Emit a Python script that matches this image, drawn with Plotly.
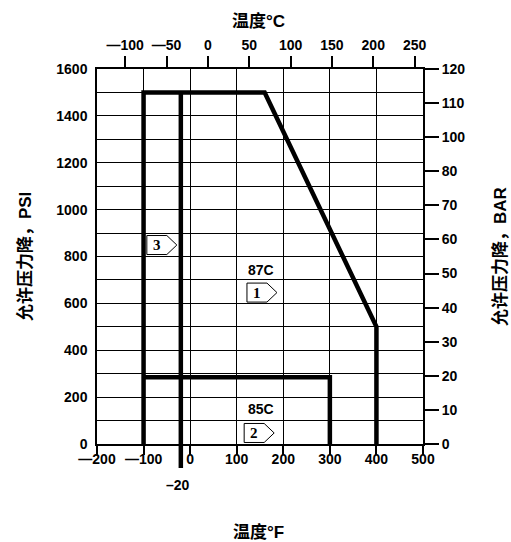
import plotly.graph_objects as go

# ---- data ----
curve1_f = [-100, -100, 160, 400, 400]
curve1_psi = [0, 1500, 1500, 500, 0]
curve2_f = [-100, 300, 300]
curve2_psi = [285, 285, 0]
curve3_f = [-20, -20]
curve3_psi = [0, 1500]

x_f_ticks = [-200, -100, 0, 100, 200, 300, 400, 500]
x_f_text = ["—200", "—100", "0", "100", "200", "300", "400", "500"]
x_c_ticks = [-100, -50, 0, 50, 100, 150, 200, 250]
x_c_text = ["—100", "—50", "0", "50", "100", "150", "200", "250"]
y_psi_ticks = [0, 200, 400, 600, 800, 1000, 1200, 1400, 1600]
y_bar_ticks = [0, 10, 20, 30, 40, 50, 60, 70, 80, 90, 100, 110]
y_bar_text = ["0", "10", "20", "30", "40", "50", "60", "70", "80", "100", "110", "120"]

flag_text = ["1", "2", "3"]
flag_f = [122, 116, -93]
flag_psi = [646, 47, 849]
curve_label_text = ["87C", "85C"]
curve_label_f = [152, 152]
curve_label_psi = [742, 149]

F_MIN, F_MAX = -200, 500
C_MIN, C_MAX = -134.1, 260.2   # °C scale as printed on the chart's top axis
PSI_PER_BAR = 14.5038

FONT = "Liberation Sans, Arial, Noto Sans CJK SC, sans-serif"
tickfont = dict(family=FONT, size=14, color="black", weight="bold")

fig = go.Figure()
line_style = dict(color="black", width=4.5)
for xs, ys in [(curve1_f, curve1_psi), (curve2_f, curve2_psi), (curve3_f, curve3_psi)]:
    fig.add_trace(go.Scatter(x=xs, y=ys, mode="lines", line=line_style,
                             showlegend=False, hoverinfo="skip"))
# same curve on the °C / BAR axes (invisible, keeps secondary axes active)
fig.add_trace(go.Scatter(x=[(f - 32) * 5 / 9 for f in curve1_f],
                         y=[p / PSI_PER_BAR for p in curve1_psi],
                         xaxis="x2", yaxis="y2", mode="lines", opacity=0,
                         showlegend=False, hoverinfo="skip"))

fig.update_layout(
    width=511, height=542,
    margin=dict(l=97, r=88, t=69, b=98),
    paper_bgcolor="white", plot_bgcolor="white",
    showlegend=False,
    xaxis=dict(range=[F_MIN, F_MAX], tickvals=x_f_ticks, ticktext=x_f_text,
               showgrid=True, gridcolor="black", gridwidth=1.3,
               zeroline=False, showline=True, linecolor="black", linewidth=1.5,
               mirror=True, ticks="outside", ticklen=9, tickwidth=1.5, tickcolor="black",
               ticklabelstandoff=-8, tickfont=tickfont),
    xaxis2=dict(range=[C_MIN, C_MAX], overlaying="x", side="top", anchor="y",
                tickvals=x_c_ticks, ticktext=x_c_text, showgrid=False, zeroline=False,
                ticks="outside", ticklen=12, tickwidth=1.5, tickcolor="black",
                tickfont=tickfont, showline=False),
    yaxis=dict(range=[0, 1600], tickvals=y_psi_ticks,
               showgrid=True, gridcolor="black", gridwidth=1.3,
               minor=dict(dtick=100, showgrid=True, gridcolor="black", gridwidth=1.3, ticks=""),
               zeroline=False, showline=True, linecolor="black", linewidth=1.5,
               mirror=True, ticks="", ticklabelstandoff=5, tickfont=tickfont),
    yaxis2=dict(range=[0, 110], overlaying="y", side="right", anchor="x",
                tickvals=y_bar_ticks, ticktext=y_bar_text, showgrid=False, zeroline=False,
                ticks="outside", ticklen=15, tickwidth=1.5, tickcolor="black",
                tickfont=tickfont, showline=False),
)

# -20 °F extended tick below axis
fig.add_shape(type="line", xref="x", yref="paper", x0=curve3_f[0], x1=curve3_f[0],
              y0=0, y1=-0.064, line=dict(color="black", width=4.5))
fig.add_annotation(x=curve3_f[0], xref="x", y=-0.11, yref="paper", text="–20",
                   showarrow=False, font=tickfont, xanchor="center", yanchor="middle",
                   xshift=-3)

# pentagon flags
pent = "M 0 -9.5 L 20 -9.5 L 30 0 L 20 9.5 L 0 9.5 Z"
for t, fx, fy in zip(flag_text, flag_f, flag_psi):
    fig.add_shape(type="path", xref="x", yref="y", xsizemode="pixel", ysizemode="pixel",
                  xanchor=fx, yanchor=fy, path=pent,
                  line=dict(color="black", width=1), fillcolor="white", layer="above")
    fig.add_annotation(x=fx, y=fy, text=t, showarrow=False, xshift=10, xanchor="center",
                       yanchor="middle",
                       font=dict(family="Liberation Serif, Times New Roman, serif", size=15,
                                 color="black", weight="bold"))

for t, fx, fy in zip(curve_label_text, curve_label_f, curve_label_psi):
    fig.add_annotation(x=fx, y=fy, text=t, showarrow=False, font=tickfont,
                       xanchor="center", yanchor="middle")

# axis titles
tfont = dict(family=FONT, size=17, color="black", weight="bold")
sfont = dict(family=FONT, size=17, color="black", weight="bold")
fig.add_annotation(x=0.494, y=1.128, xref="paper", yref="paper", text="温度°C",
                   showarrow=False, font=tfont, xanchor="center", yanchor="middle")
fig.add_annotation(x=0.494, y=-0.237, xref="paper", yref="paper", text="温度°F",
                   showarrow=False, font=tfont, xanchor="center", yanchor="middle")
fig.add_annotation(x=-0.221, y=0.501, xref="paper", yref="paper", text="允许压力降，PSI",
                   showarrow=False, font=sfont, textangle=-90, xanchor="center", yanchor="middle")
fig.add_annotation(x=1.236, y=0.501, xref="paper", yref="paper", text="允许压力降，BAR",
                   showarrow=False, font=sfont, textangle=-90, xanchor="center", yanchor="middle")

fig.write_html("out.html", config={"displayModeBar": False},
               post_script="document.body.style.margin='0';document.body.style.overflow='hidden';")
